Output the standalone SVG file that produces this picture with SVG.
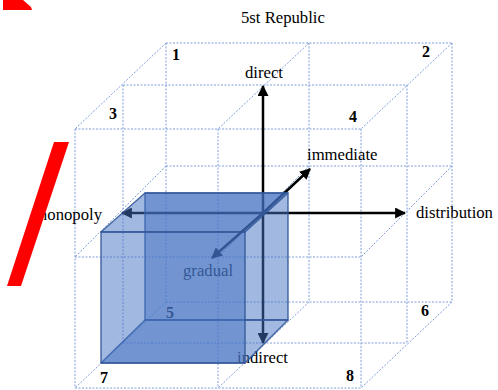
<svg xmlns="http://www.w3.org/2000/svg" width="498" height="390" viewBox="0 0 498 390">
  <defs>
    <style>
      .grid line { stroke: #7f9fdb; stroke-width: 1; stroke-dasharray: 2 1.5; fill: none; }
      .axis { stroke: #000; stroke-width: 2.5; fill: none; }
      .lbl { font-family: "Liberation Serif", "Times New Roman", serif; font-size: 16.7px; fill: #000; }
      .num { font-family: "Liberation Serif", "Times New Roman", serif; font-size: 16px; font-weight: bold; fill: #000; }
      .face { fill: #4472C4; fill-opacity: 0.5; stroke: #2F5597; stroke-opacity: 0.85; stroke-width: 1.5; stroke-linejoin: round; }
    </style>
    <marker id="ah" viewBox="0 0 10 10" refX="9" refY="5" markerWidth="4.4" markerHeight="4.4" orient="auto" markerUnits="strokeWidth">
      <path d="M0,0 L10,5 L0,10 z" fill="#000"/>
    </marker>
  </defs>
  <rect width="498" height="390" fill="#fff"/>

  <!-- wireframe lattice -->
  <g id="lattice" class="grid">
    <!-- back layer -->
    <line x1="166" y1="43" x2="452" y2="43"/>
    <line x1="166" y1="166" x2="452" y2="166"/>
    <line x1="166" y1="302" x2="452" y2="302"/>
    <line x1="166" y1="43" x2="166" y2="302"/>
    <line x1="309" y1="43" x2="309" y2="302"/>
    <line x1="452" y1="43" x2="452" y2="302"/>
    <!-- mid layer -->
    <line x1="123" y1="85" x2="407" y2="85"/>
    <line x1="123" y1="343" x2="407" y2="343"/>
    <line x1="123" y1="85" x2="123" y2="343"/>
    <line x1="407" y1="85" x2="407" y2="343"/>
    <!-- front layer -->
    <line x1="75" y1="129" x2="361" y2="129"/>
    <line x1="75" y1="257" x2="361" y2="257"/>
    <line x1="75" y1="388" x2="361" y2="388"/>
    <line x1="75" y1="129" x2="75" y2="388"/>
    <line x1="218" y1="129" x2="218" y2="388"/>
    <line x1="361" y1="129" x2="361" y2="388"/>
    <!-- depth lines -->
    <line x1="166" y1="43" x2="75" y2="129"/>
    <line x1="309" y1="43" x2="218" y2="129"/>
    <line x1="452" y1="43" x2="361" y2="129"/>
    <line x1="166" y1="166" x2="75" y2="257"/>
    <line x1="309" y1="166" x2="218" y2="257"/>
    <line x1="452" y1="166" x2="361" y2="257"/>
    <line x1="166" y1="302" x2="75" y2="388"/>
    <line x1="309" y1="302" x2="218" y2="388"/>
    <line x1="452" y1="302" x2="361" y2="388"/>
  </g>

  <!-- axes -->
  <g id="connectors">
    <line class="axis" x1="263" y1="214" x2="263" y2="86" marker-end="url(#ah)"/>
    <line class="axis" x1="263" y1="214" x2="263" y2="343" marker-end="url(#ah)"/>
    <line class="axis" x1="263" y1="213" x2="122" y2="213" marker-end="url(#ah)"/>
    <line class="axis" x1="263" y1="213" x2="405" y2="213" marker-end="url(#ah)"/>
    <line class="axis" x1="263" y1="213" x2="310" y2="169" marker-end="url(#ah)"/>
    <line class="axis" x1="263" y1="213" x2="212" y2="258" marker-end="url(#ah)"/>
  </g>

  <!-- labels -->
  <g id="labels">
    <text class="lbl" x="241" y="23">5st Republic</text>
    <text class="lbl" x="245" y="78">direct</text>
    <text class="lbl" x="307" y="160">immediate</text>
    <text class="lbl" x="416" y="218">distribution</text>
    <text class="lbl" x="102" y="220" text-anchor="end">monopoly</text>
    <text class="lbl" x="183" y="276">gradual</text>
    <text class="lbl" x="237" y="363">indirect</text>
    <text class="num" x="172" y="60">1</text>
    <text class="num" x="422" y="57">2</text>
    <text class="num" x="109" y="119">3</text>
    <text class="num" x="349" y="122">4</text>
    <text class="num" x="166" y="318">5</text>
    <text class="num" x="421" y="316">6</text>
    <text class="num" x="100" y="383">7</text>
    <text class="num" x="346" y="381">8</text>
  </g>

  <!-- translucent cube -->
  <g id="cube">
    <rect class="face" x="145" y="193" width="143" height="127"/>
    <polygon class="face" points="101,232 145,193 288,193 245,232"/>
    <polygon class="face" points="101,363 145,320 288,320 245,363"/>
    <rect class="face" x="101" y="232" width="144" height="131"/>
  </g>

  <!-- red marks -->
  <g id="red-marks" fill="#FF0000">
    <polygon points="3,0 23,0 31,7 32,10 3,10"/>
    <polygon points="54,142 69,142 21,286 7,286"/>
  </g>
</svg>
